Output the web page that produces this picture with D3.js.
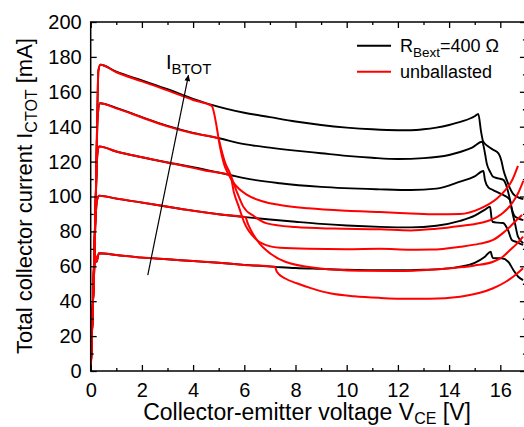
<!DOCTYPE html>
<html>
<head>
<meta charset="utf-8">
<script src="https://cdn.jsdelivr.net/npm/d3@7/dist/d3.min.js"></script>
<style>
  html, body { margin: 0; padding: 0; background: #fff; }
  svg { display: block; font-family: "Liberation Sans", Arial, sans-serif; }
</style>
</head>
<body>
<svg id="chart" width="524" height="427"></svg>
<script>
// ---------- DATA (voltage V_CE [V], current I_CTOT [mA]) ----------
const xTicks = [0, 2, 4, 6, 8, 10, 12, 14, 16];
const xMinorTicks = [1, 3, 5, 7, 9, 11, 13, 15, 17];
const yTicks = [0, 20, 40, 60, 80, 100, 120, 140, 160, 180, 200];
const yMinorTicks = [10, 30, 50, 70, 90, 110, 130, 150, 170, 190];

// R_Bext = 400 Ohm (black)
const ballasted1 = [[0,0],[0.1,45],[0.2,100],[0.26,150],[0.3,172],[0.38,175.5],[1,171.5],[2,166.5],[3,161.5],[4,156],[4.73,152.5],[6,148],[7,145.5],[8,143],[9,141],[10,139.5],[11,138.5],[12,138],[12.5,138],[13,138.5],[13.5,139.5],[14,141],[14.5,143],[15,146],[15.14,147.3],[15.25,137],[15.33,131.5],[15.53,128.7],[15.72,126.8],[15.92,124.9],[16.05,120.1],[16.12,115.3],[16.25,109.5],[16.38,104.7],[16.5,101.5],[16.7,99.5],[16.9,98.5]];
const ballasted2 = [[0,0],[0.1,45],[0.2,100],[0.27,145],[0.36,153.4],[1,150.8],[2,145.5],[3,140.5],[4,136.5],[4.98,133.5],[6,130],[7,128],[8,126.3],[9,124.8],[10,123.3],[11,122.2],[12,121.5],[13,122],[14,123.8],[14.43,125.5],[14.9,128],[15.29,131.4],[15.4,124.8],[15.47,119],[15.6,114.2],[15.72,111.3],[15.92,110.4],[16.12,109.5],[16.25,105.6],[16.35,100],[16.45,93],[16.55,89],[16.7,87.5],[16.9,86.5]];
const ballasted3 = [[0,0],[0.1,45],[0.2,100],[0.26,124],[0.33,128.7],[1,125.8],[2,122.5],[3,119.5],[4,116.8],[5.44,112.3],[6,110.5],[7.39,107.6],[9,105.5],[11.3,104.1],[12.5,103.7],[13.5,104.5],[14.43,108.5],[15,111.5],[15.34,114.6],[15.4,109.5],[15.53,105.3],[15.72,103.7],[15.98,101.8],[16.38,98],[16.45,92.3],[16.57,84.8],[16.69,77],[16.9,73.2]];
const ballasted4 = [[0,0],[0.1,45],[0.2,90],[0.25,98],[0.33,100.5],[1,98.8],[2,96.5],[3.49,93],[5,89.8],[6.03,88.2],[7,86.8],[8,85.5],[9,84.3],[10,83.4],[11.3,82.6],[12.5,82.3],[13.5,83.2],[14.43,86],[15,89],[15.4,92.5],[15.6,94.2],[15.66,87.5],[15.71,85.4],[15.9,85],[16.11,84.8],[16.3,80.8],[16.45,75.1],[16.64,73.9],[16.89,72.2]];
const ballasted5 = [[0,0],[0.1,45],[0.19,66],[0.23,62.6],[0.32,67.5],[1,66.5],[2,65],[3,64],[4,63],[5,62],[6,60.8],[7.2,59.7],[8,59],[9,58.5],[10,58],[11,57.8],[12,57.7],[13,58],[14,58.8],[14.43,59.8],[15,62],[15.4,65.5],[15.63,68.4],[15.66,66.5],[15.71,64.7],[16.05,64.6],[16.31,62.6],[16.51,57.9],[16.7,54],[16.89,52.1]];

// unballasted (red)
const unballasted1 = [[0,0],[0.1,45],[0.2,100],[0.26,150],[0.3,172],[0.38,175.5],[1,171.2],[2,166],[3,160.8],[4,155.3],[4.73,151.9],[4.79,149.6],[4.92,140],[5.05,128.5],[5.2,119],[5.37,113],[5.6,107.5],[6.11,100.9],[6.7,97.3],[7.39,95.1],[8.5,93.2],[10,91.8],[11.3,91.1],[12.5,90.3],[13.5,89.8],[14.43,90],[15.21,93.1],[15.87,98.9],[16.18,103.4],[16.45,109],[16.69,117.6]];
const unballasted2 = [[0,0],[0.1,45],[0.2,100],[0.27,145],[0.36,153.4],[1,150.5],[2,145.3],[3,140.2],[4,136.2],[4.98,133.3],[5.1,127],[5.25,119.5],[5.44,113.3],[5.7,103],[5.96,94.2],[6.4,88.5],[6.88,84.6],[8,82.5],[9.5,81.6],[11.3,81.2],[12.5,80.5],[13.5,81.5],[14.43,83.1],[15.21,84.8],[15.85,88],[16.1,90.5],[16.5,97],[16.7,102],[16.9,109]];
const unballasted3 = [[0,0],[0.1,45],[0.2,100],[0.26,124],[0.33,128.7],[1,125.8],[2,122.5],[3,119.5],[3.49,118],[4.5,114.8],[5.44,112.3],[5.6,102],[5.8,93.5],[6.0,85],[6.42,76],[6.88,72],[7.4,70.6],[8.5,70],[10,69.8],[11.3,70],[12.5,69.5],[13.3,69.6],[14.43,71.2],[15.2,73],[15.72,75.1],[16.1,79],[16.38,82.7],[16.6,86],[16.85,89.4]];
const unballasted4 = [[0,0],[0.1,45],[0.2,90],[0.25,98],[0.33,100.5],[1,98.8],[2,96.5],[3.49,93],[5,89.8],[6.03,88.2],[6.15,84],[6.3,79.5],[6.6,73],[7.0,67.5],[7.6,62.6],[8.9,58.9],[10.5,57.5],[12,57.3],[13.3,58],[14.43,59.4],[15.0,60.5],[15.72,62.6],[16.1,65.5],[16.38,69.3],[16.65,73],[16.89,77]];
const unballasted5 = [[0,0],[0.1,45],[0.19,66],[0.23,62.6],[0.32,67.5],[1,66.5],[2,65],[3,64],[4,63],[5,62],[6,60.8],[7.2,59.7],[7.27,56.9],[7.6,53],[8.05,50.3],[8.6,47.5],[9.35,44.5],[10.3,42.8],[11.3,41.9],[12.5,41.4],[13.25,41.4],[14.43,42.6],[15.2,44.8],[15.72,47.4],[16.2,51],[16.5,54],[16.89,58.9]];

const ballastedSeries = [ballasted1, ballasted2, ballasted3, ballasted4, ballasted5];
const unballastedSeries = [unballasted1, unballasted2, unballasted3, unballasted4, unballasted5];

// arrow annotation (increasing I_BTOT), in data units
const arrowFrom = [2.23, 55];
const arrowTo = [3.82, 169.6];

// ---------- CHART ----------
const svg = d3.select("#chart");
const font = '"Liberation Sans", Arial, sans-serif';

const x = d3.scaleLinear().domain([0, 17]).range([90.7, 525.9]);
const y = d3.scaleLinear().domain([0, 200]).range([371, 22]);

const defs = svg.append("defs");
defs.append("clipPath").attr("id", "plotclip")
  .append("rect").attr("x", x(0)).attr("y", y(200)).attr("width", x(17) - x(0)).attr("height", y(0) - y(200));
defs.append("marker").attr("id", "arrowhead")
  .attr("viewBox", "0 0 10 10").attr("refX", 10).attr("refY", 5)
  .attr("markerWidth", 9).attr("markerHeight", 6).attr("markerUnits", "userSpaceOnUse")
  .attr("orient", "auto")
  .append("path").attr("d", "M0,0 L10,5 L0,10 Z").attr("fill", "#000");

const line = d3.line().x(d => x(d[0])).y(d => y(d[1])).curve(d3.curveMonotoneX);

const plot = svg.append("g").attr("clip-path", "url(#plotclip)");
ballastedSeries.forEach(s => {
  plot.append("path").attr("d", line(s)).attr("fill", "none")
    .attr("stroke", "#000").attr("stroke-width", 1.9).attr("stroke-linejoin", "round");
});
unballastedSeries.forEach(s => {
  plot.append("path").attr("d", line(s)).attr("fill", "none")
    .attr("stroke", "#f00").attr("stroke-width", 2).attr("stroke-linejoin", "round");
});

// arrow
svg.append("line")
  .attr("x1", x(arrowFrom[0])).attr("y1", y(arrowFrom[1]))
  .attr("x2", x(arrowTo[0])).attr("y2", y(arrowTo[1]))
  .attr("stroke", "#000").attr("stroke-width", 1.2)
  .attr("marker-end", "url(#arrowhead)");

const ib = svg.append("text").attr("x", 166).attr("y", 69)
  .attr("font-size", 20).attr("font-family", font).attr("fill", "#000");
ib.append("tspan").text("I");
ib.append("tspan").attr("font-size", 15).attr("dy", 5).text("BTOT");

// axes
function styleAxis(g) {
  g.select(".domain").remove();
  g.selectAll(".tick line").attr("stroke", "#000").attr("stroke-width", 1.3);
  g.selectAll(".tick text").attr("font-size", 20).attr("font-family", font).attr("fill", "#000");
}

svg.append("g").attr("transform", `translate(0,${y(0)})`)
  .call(d3.axisBottom(x).tickValues(xTicks).tickSizeInner(-6).tickSizeOuter(0).tickPadding(12).tickFormat(d3.format("d")))
  .call(styleAxis);
svg.append("g").attr("transform", `translate(0,${y(0)})`)
  .call(d3.axisBottom(x).tickValues(xMinorTicks).tickSizeInner(-3).tickSizeOuter(0).tickFormat(""))
  .call(styleAxis);
svg.append("g").attr("transform", `translate(0,${y(200)})`)
  .call(d3.axisTop(x).tickValues(xTicks).tickSizeInner(-6).tickSizeOuter(0).tickFormat(""))
  .call(styleAxis);
svg.append("g").attr("transform", `translate(0,${y(200)})`)
  .call(d3.axisTop(x).tickValues(xMinorTicks).tickSizeInner(-3).tickSizeOuter(0).tickFormat(""))
  .call(styleAxis);

svg.append("g").attr("transform", `translate(${x(0)},0)`)
  .call(d3.axisLeft(y).tickValues(yTicks).tickSizeInner(-6).tickSizeOuter(0).tickPadding(9).tickFormat(d3.format("d")))
  .call(styleAxis);
svg.append("g").attr("transform", `translate(${x(0)},0)`)
  .call(d3.axisLeft(y).tickValues(yMinorTicks).tickSizeInner(-3).tickSizeOuter(0).tickFormat(""))
  .call(styleAxis);
svg.append("g").attr("transform", `translate(${x(17)},0)`)
  .call(d3.axisRight(y).tickValues(yTicks).tickSizeInner(-6).tickSizeOuter(0).tickFormat(""))
  .call(styleAxis);
svg.append("g").attr("transform", `translate(${x(17)},0)`)
  .call(d3.axisRight(y).tickValues(yMinorTicks).tickSizeInner(-3).tickSizeOuter(0).tickFormat(""))
  .call(styleAxis);

// frame
svg.append("rect").attr("x", x(0)).attr("y", y(200))
  .attr("width", x(17) - x(0)).attr("height", y(0) - y(200))
  .attr("fill", "none").attr("stroke", "#000").attr("stroke-width", 1.5);

// axis titles
const xt = svg.append("text").attr("x", 307).attr("y", 420)
  .attr("text-anchor", "middle").attr("font-size", 23).attr("font-family", font).attr("fill", "#000");
xt.append("tspan").text("Collector-emitter voltage V");
xt.append("tspan").attr("font-size", 16).attr("dy", 4).text("CE");
xt.append("tspan").attr("dy", -4).text(" [V]");

const yt = svg.append("text").attr("transform", "translate(31.5,196) rotate(-90)")
  .attr("text-anchor", "middle").attr("font-size", 22).attr("font-family", font).attr("fill", "#000");
yt.append("tspan").text("Total collector current I");
yt.append("tspan").attr("font-size", 16).attr("dy", 5).text("CTOT");
yt.append("tspan").attr("dy", -5).text(" [mA]");

// legend
const legendItems = [
  { color: "#000", y: 45.7 },
  { color: "#f00", y: 71.7 }
];
legendItems.forEach(it => {
  svg.append("line").attr("x1", 357).attr("x2", 391).attr("y1", it.y).attr("y2", it.y)
    .attr("stroke", it.color).attr("stroke-width", 2);
});
const l1 = svg.append("text").attr("x", 400).attr("y", 51.5)
  .attr("font-size", 18).attr("font-family", font).attr("fill", "#000");
l1.append("tspan").text("R");
l1.append("tspan").attr("font-size", 13.5).attr("dy", 5).text("Bext");
l1.append("tspan").attr("dy", -5).text("=400 Ω");
svg.append("text").attr("x", 400).attr("y", 77.5)
  .attr("font-size", 18).attr("font-family", font).attr("fill", "#000").text("unballasted");
</script>
</body>
</html>
